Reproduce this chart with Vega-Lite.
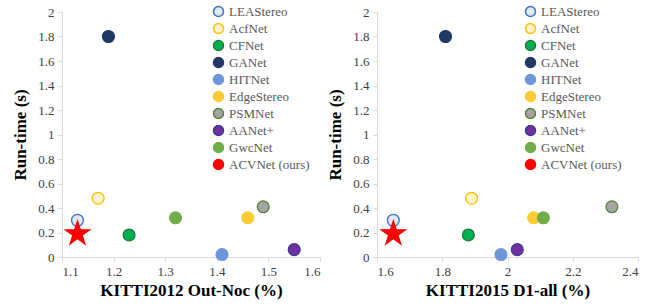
{
  "$schema": "https://vega.github.io/schema/vega-lite/v6.json",
  "padding": {"left": 11, "top": 5, "right": 3, "bottom": 5},
  "config": {
    "view": {"strokeWidth": 0},
    "font": "Liberation Serif",
    "axis": {
      "grid": false,
      "domainColor": "#d9d9d9",
      "tickColor": "#d9d9d9",
      "tickSize": 4,
      "labelFont": "Liberation Serif",
      "labelFontSize": 13,
      "labelColor": "#404040",
      "titleFont": "Liberation Serif",
      "titleFontSize": 17,
      "titleFontWeight": "bold",
      "titleColor": "#000000"
    }
  },
  "data": {"values": [
    {"bench": "KITTI2012", "method": "LEAStereo", "error": 1.13, "runtime": 0.30},
    {"bench": "KITTI2012", "method": "AcfNet", "error": 1.17, "runtime": 0.48},
    {"bench": "KITTI2012", "method": "CFNet", "error": 1.23, "runtime": 0.18},
    {"bench": "KITTI2012", "method": "GANet", "error": 1.19, "runtime": 1.80},
    {"bench": "KITTI2012", "method": "HITNet", "error": 1.41, "runtime": 0.02},
    {"bench": "KITTI2012", "method": "EdgeStereo", "error": 1.46, "runtime": 0.32},
    {"bench": "KITTI2012", "method": "PSMNet", "error": 1.49, "runtime": 0.41},
    {"bench": "KITTI2012", "method": "AANet+", "error": 1.55, "runtime": 0.06},
    {"bench": "KITTI2012", "method": "GwcNet", "error": 1.32, "runtime": 0.32},
    {"bench": "KITTI2012", "method": "ACVNet (ours)", "error": 1.13, "runtime": 0.19},
    {"bench": "KITTI2015", "method": "LEAStereo", "error": 1.65, "runtime": 0.30},
    {"bench": "KITTI2015", "method": "AcfNet", "error": 1.89, "runtime": 0.48},
    {"bench": "KITTI2015", "method": "CFNet", "error": 1.88, "runtime": 0.18},
    {"bench": "KITTI2015", "method": "GANet", "error": 1.81, "runtime": 1.80},
    {"bench": "KITTI2015", "method": "HITNet", "error": 1.98, "runtime": 0.02},
    {"bench": "KITTI2015", "method": "EdgeStereo", "error": 2.08, "runtime": 0.32},
    {"bench": "KITTI2015", "method": "PSMNet", "error": 2.32, "runtime": 0.41},
    {"bench": "KITTI2015", "method": "AANet+", "error": 2.03, "runtime": 0.06},
    {"bench": "KITTI2015", "method": "GwcNet", "error": 2.11, "runtime": 0.32},
    {"bench": "KITTI2015", "method": "ACVNet (ours)", "error": 1.65, "runtime": 0.19}
  ]},
  "hconcat": [
    {
      "width": 258,
      "height": 245,
      "transform": [{"filter": "datum.bench === 'KITTI2012'"}],
      "mark": {"type": "point", "filled": true, "strokeWidth": 1.3, "opacity": 1},
      "encoding": {
        "x": {"field": "error", "type": "quantitative", "title": "KITTI2012 Out-Noc (%)",
          "scale": {"domain": [1.1, 1.6], "zero": false, "nice": false},
          "axis": {"values": [1.1, 1.2, 1.3, 1.4, 1.5, 1.6], "format": "~g", "labelFont": "Liberation Serif", "labelPadding": 4, "titlePadding": 4}},
        "y": {"field": "runtime", "type": "quantitative", "title": "Run-time (s)",
          "scale": {"domain": [0, 2], "nice": false},
          "axis": {"values": [0, 0.2, 0.4, 0.6, 0.8, 1, 1.2, 1.4, 1.6, 1.8, 2], "format": "~g", "labelFont": "Liberation Serif", "labelPadding": 4, "titlePadding": 8}},
        "fill": {"field": "method", "type": "nominal",
          "scale": {"domain": ["LEAStereo", "AcfNet", "CFNet", "GANet", "HITNet", "EdgeStereo", "PSMNet", "AANet+", "GwcNet", "ACVNet (ours)"],
            "range": ["#deebf7", "#fff2cc", "#00b050", "#203864", "#6d96d8", "#ffcc33", "#a5a5a5", "#7030a0", "#70ad47", "#ff0000"]},
          "legend": {"title": null, "orient": "none", "direction": "vertical", "legendX": 150, "legendY": -7, "padding": 0,
            "rowPadding": 0, "labelFontSize": 13, "labelFont": "Liberation Serif", "labelColor": "#595959", "labelOffset": 4,
            "symbolSize": 100,
            "encode": {
              "symbols": {
                "fill": {"signal": "['#deebf7','#ffc000','#00b050','#203864','#6d96d8','#ffcc33','#a5a5a5','#7030a0','#70ad47','#ff0000'][indexof(['LEAStereo','AcfNet','CFNet','GANet','HITNet','EdgeStereo','PSMNet','AANet+','GwcNet','ACVNet (ours)'], datum.value)]"},
                "stroke": {"signal": "['#4472c4','#ffc000','#1e7b3c','#1f3864','#6d96d8','#ffcc33','#548235','#3a3a8f','#70ad47','#ff0000'][indexof(['LEAStereo','AcfNet','CFNet','GANet','HITNet','EdgeStereo','PSMNet','AANet+','GwcNet','ACVNet (ours)'], datum.value)]"},
                "strokeWidth": {"value": 1.2},
                "opacity": {"value": 1},
                "shape": {"signal": "datum.value === 'ACVNet (ours)' ? 'M0,-1L0.225,-0.309L0.951,-0.309L0.363,0.118L0.588,0.809L0,0.382L-0.588,0.809L-0.363,0.118L-0.951,-0.309L-0.225,-0.309Z' : 'circle'"},
                "size": {"signal": "datum.value === 'ACVNet (ours)' ? 260 : 100"}
              },
              "labels": {
                "fill": {"signal": "datum.value === 'ACVNet (ours)' ? '#000000' : '#595959'"},
                "fontWeight": {"signal": "datum.value === 'ACVNet (ours)' ? 'bold' : 'normal'"}
              }
            }}},
        "stroke": {"field": "method", "type": "nominal", "legend": null,
          "scale": {"domain": ["LEAStereo", "AcfNet", "CFNet", "GANet", "HITNet", "EdgeStereo", "PSMNet", "AANet+", "GwcNet", "ACVNet (ours)"],
            "range": ["#4472c4", "#ffc000", "#1e7b3c", "#1f3864", "#6d96d8", "#ffcc33", "#548235", "#3a3a8f", "#70ad47", "#ff0000"]}},
        "shape": {"condition": {"test": "datum.method === 'ACVNet (ours)'", "value": "M0,-1L0.225,-0.309L0.951,-0.309L0.363,0.118L0.588,0.809L0,0.382L-0.588,0.809L-0.363,0.118L-0.951,-0.309L-0.225,-0.309Z"}, "value": "circle"},
        "size": {"condition": {"test": "datum.method === 'ACVNet (ours)'", "value": 640}, "value": 140}
      }
    },
    {
      "width": 261,
      "height": 245,
      "transform": [{"filter": "datum.bench === 'KITTI2015'"}],
      "mark": {"type": "point", "filled": true, "strokeWidth": 1.3, "opacity": 1},
      "encoding": {
        "x": {"field": "error", "type": "quantitative", "title": "KITTI2015 D1-all (%)",
          "scale": {"domain": [1.6, 2.4], "zero": false, "nice": false},
          "axis": {"values": [1.6, 1.8, 2, 2.2, 2.4], "format": "~g", "labelFont": "Liberation Serif", "labelPadding": 4, "titlePadding": 4}},
        "y": {"field": "runtime", "type": "quantitative", "title": "Run-time (s)",
          "scale": {"domain": [0, 2], "nice": false},
          "axis": {"values": [0, 0.2, 0.4, 0.6, 0.8, 1, 1.2, 1.4, 1.6, 1.8, 2], "format": "~g", "labelFont": "Liberation Serif", "labelPadding": 4, "titlePadding": 8}},
        "fill": {"field": "method", "type": "nominal",
          "scale": {"domain": ["LEAStereo", "AcfNet", "CFNet", "GANet", "HITNet", "EdgeStereo", "PSMNet", "AANet+", "GwcNet", "ACVNet (ours)"],
            "range": ["#deebf7", "#fff2cc", "#00b050", "#203864", "#6d96d8", "#ffcc33", "#a5a5a5", "#7030a0", "#70ad47", "#ff0000"]},
          "legend": {"title": null, "orient": "none", "direction": "vertical", "legendX": 147, "legendY": -7, "padding": 0,
            "rowPadding": 0, "labelFontSize": 13, "labelFont": "Liberation Serif", "labelColor": "#595959", "labelOffset": 4,
            "symbolSize": 100,
            "encode": {
              "symbols": {
                "fill": {"signal": "['#deebf7','#ffc000','#00b050','#203864','#6d96d8','#ffcc33','#a5a5a5','#7030a0','#70ad47','#ff0000'][indexof(['LEAStereo','AcfNet','CFNet','GANet','HITNet','EdgeStereo','PSMNet','AANet+','GwcNet','ACVNet (ours)'], datum.value)]"},
                "stroke": {"signal": "['#4472c4','#ffc000','#1e7b3c','#1f3864','#6d96d8','#ffcc33','#548235','#3a3a8f','#70ad47','#ff0000'][indexof(['LEAStereo','AcfNet','CFNet','GANet','HITNet','EdgeStereo','PSMNet','AANet+','GwcNet','ACVNet (ours)'], datum.value)]"},
                "strokeWidth": {"value": 1.2},
                "opacity": {"value": 1},
                "shape": {"signal": "datum.value === 'ACVNet (ours)' ? 'M0,-1L0.225,-0.309L0.951,-0.309L0.363,0.118L0.588,0.809L0,0.382L-0.588,0.809L-0.363,0.118L-0.951,-0.309L-0.225,-0.309Z' : 'circle'"},
                "size": {"signal": "datum.value === 'ACVNet (ours)' ? 260 : 100"}
              },
              "labels": {
                "fill": {"signal": "datum.value === 'ACVNet (ours)' ? '#000000' : '#595959'"},
                "fontWeight": {"signal": "datum.value === 'ACVNet (ours)' ? 'bold' : 'normal'"}
              }
            }}},
        "stroke": {"field": "method", "type": "nominal", "legend": null,
          "scale": {"domain": ["LEAStereo", "AcfNet", "CFNet", "GANet", "HITNet", "EdgeStereo", "PSMNet", "AANet+", "GwcNet", "ACVNet (ours)"],
            "range": ["#4472c4", "#ffc000", "#1e7b3c", "#1f3864", "#6d96d8", "#ffcc33", "#548235", "#3a3a8f", "#70ad47", "#ff0000"]}},
        "shape": {"condition": {"test": "datum.method === 'ACVNet (ours)'", "value": "M0,-1L0.225,-0.309L0.951,-0.309L0.363,0.118L0.588,0.809L0,0.382L-0.588,0.809L-0.363,0.118L-0.951,-0.309L-0.225,-0.309Z"}, "value": "circle"},
        "size": {"condition": {"test": "datum.method === 'ACVNet (ours)'", "value": 640}, "value": 140}
      }
    }
  ],
  "spacing": 5,
  "resolve": {
    "scale": {"fill": "independent", "stroke": "independent"},
    "legend": {"fill": "independent"}
  }
}
